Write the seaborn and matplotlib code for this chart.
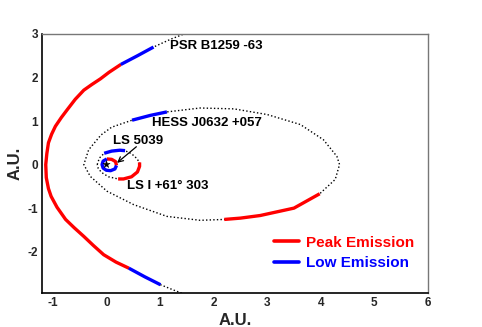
import matplotlib
matplotlib.use("Agg")
import matplotlib.pyplot as plt
from matplotlib.lines import Line2D
from matplotlib.ticker import MultipleLocator
import seaborn as sns
import pandas as pd

# ---- data (A.U.) ----
psr_x = [1.55, 1.20, 0.88, 0.58, 0.27, 0.05, -0.11, -0.27, -0.42, -0.58, -0.73,
         -0.84, -0.95, -1.02, -1.08, -1.11, -1.13, -1.12, -1.08, -1.03, -0.92,
         -0.76, -0.60, -0.42, -0.24, -0.05, 0.18, 0.42, 0.72, 1.01, 1.25, 1.50]
psr_y = [3.05, 2.88, 2.70, 2.50, 2.30, 2.12, 1.97, 1.84, 1.71, 1.50, 1.26,
         1.08, 0.88, 0.70, 0.50, 0.25, 0.0, -0.30, -0.55, -0.73, -0.98,
         -1.26, -1.45, -1.65, -1.86, -2.07, -2.24, -2.38, -2.58, -2.76, -2.88, -3.0]
psr_red = (4, 27)
psr_blue = [(2, 4), (27, 29)]

hess_x = [0.48, 0.82, 1.13, 1.75, 2.38, 3.0, 3.62, 4.05, 4.30, 4.35, 4.27, 3.98,
          3.5, 2.87, 2.5, 2.2, 1.75, 1.13, 0.51, 0.01, -0.30, -0.42, -0.33,
          -0.10, 0.10, 0.48]
hess_y = [1.02, 1.13, 1.21, 1.30, 1.28, 1.15, 0.92, 0.57, 0.19, 0.0, -0.34, -0.67,
          -1.0, -1.17, -1.23, -1.26, -1.28, -1.19, -0.92, -0.61, -0.27, 0.0, 0.34,
          0.68, 0.86, 1.02]
hess_red = (11, 15)
hess_blue = (0, 2)

lsi_x = [-0.17, -0.13, -0.04, 0.10, 0.25, 0.35, 0.47, 0.56, 0.62, 0.62, 0.58,
         0.47, 0.32, 0.22, 0.04, -0.09, -0.15, -0.17]
lsi_y = [0.0, 0.15, 0.26, 0.31, 0.33, 0.32, 0.25, 0.15, 0.05, -0.04, -0.17,
         -0.28, -0.33, -0.33, -0.28, -0.18, -0.09, 0.0]
lsi_red = (8, 13)
lsi_blue = (2, 5)

ls5_x = [0.01, 0.10, 0.17, 0.19, 0.16, 0.08, 0.0, -0.06, -0.08, -0.06, 0.01]
ls5_y = [0.13, 0.12, 0.07, -0.02, -0.10, -0.14, -0.13, -0.08, 0.0, 0.08, 0.13]
ls5_red = (0, 3)
ls5_blue = (3, 10)

star_x = [0.0]
star_y = [0.02]

labels = ["PSR B1259 -63", "HESS J0632 +057", "LS 5039", "LS I +61° 303"]
label_x = [1.19, 0.85, 0.125, 0.39]
label_y = [2.72, 0.96, 0.54, -0.50]
arrow_from = (0.56, 0.41)
arrow_to = (0.20, 0.04)

legend_labels = ["Peak Emission", "Low Emission"]
x_ticks = [-1, 0, 1, 2, 3, 4, 5, 6]
y_ticks = [-2, -1, 0, 1, 2, 3]

RED = "#ff0000"
BLUE = "#0000ff"

sns.set_style("white")
plt.rcParams["font.family"] = ["Liberation Sans", "DejaVu Sans"]
plt.rcParams["font.weight"] = "bold"
plt.rcParams["axes.unicode_minus"] = False

fig = plt.figure(figsize=(4.82, 3.27), dpi=100)
ax = fig.add_axes([42 / 482, 34 / 327, (428 - 42) / 482, (293 - 34) / 327])


def seg(xs, ys, rng):
    a, b = rng
    return pd.DataFrame({"x": xs[a:b + 1], "y": ys[a:b + 1]})


def draw(df, **kw):
    sns.lineplot(data=df, x="x", y="y", sort=False, estimator=None, ax=ax, **kw)


dot = dict(color="black", linewidth=1.0, linestyle=(0, (1, 1.6)))
thick = dict(linewidth=2.4, solid_capstyle="butt", solid_joinstyle="round")

for xs, ys in [(psr_x, psr_y), (hess_x, hess_y), (lsi_x, lsi_y)]:
    draw(pd.DataFrame({"x": xs, "y": ys}), **dot)

draw(seg(psr_x, psr_y, psr_red), color=RED, **thick)
for r in psr_blue:
    draw(seg(psr_x, psr_y, r), color=BLUE, **thick)
draw(seg(hess_x, hess_y, hess_red), color=RED, **thick)
draw(seg(hess_x, hess_y, hess_blue), color=BLUE, **thick)
draw(seg(lsi_x, lsi_y, lsi_red), color=RED, **thick)
draw(seg(lsi_x, lsi_y, lsi_blue), color=BLUE, **thick)
draw(seg(ls5_x, ls5_y, ls5_red), color=RED, **thick)
draw(seg(ls5_x, ls5_y, ls5_blue), color=BLUE, **thick)

sns.scatterplot(x=star_x, y=star_y, marker="*", s=30, color="black",
                edgecolor="black", linewidth=0.3, ax=ax, zorder=5)

for t, lx, ly in zip(labels, label_x, label_y):
    ax.text(lx, ly, t, fontsize=9.5, fontweight="bold", ha="left", va="center",
            color="black")

ax.annotate("", xy=arrow_to, xytext=arrow_from,
            arrowprops=dict(arrowstyle="->", color="black", lw=0.9,
                            mutation_scale=9, shrinkA=0, shrinkB=0))

ax.set_xlim(-1.2, 6)
ax.set_ylim(-2.95, 3)
ax.set_xticks(x_ticks)
ax.set_yticks(y_ticks)
ax.xaxis.set_minor_locator(MultipleLocator(0.2))
ax.yaxis.set_minor_locator(MultipleLocator(0.2))
ax.tick_params(which="both", direction="in", top=False, right=False,
               labelsize=8.5, width=1.0, color="black")
ax.tick_params(which="major", length=6, pad=3)
ax.tick_params(which="minor", length=3)
for lab in ax.get_xticklabels() + ax.get_yticklabels():
    lab.set_fontweight("bold")

ax.set_xlabel("A.U.", fontsize=12, fontweight="bold", labelpad=3)
ax.set_ylabel("A.U.", fontsize=12, fontweight="bold", labelpad=3)

for s in ["left", "bottom"]:
    ax.spines[s].set_color("black")
    ax.spines[s].set_linewidth(1.2)
for s in ["top", "right"]:
    ax.spines[s].set_color("#777777")
    ax.spines[s].set_linewidth(1.0)

handles = [Line2D([], [], color=RED, lw=2.6), Line2D([], [], color=BLUE, lw=2.6)]
leg = ax.legend(handles, legend_labels, loc="upper left",
                bbox_to_anchor=(0.60, 0.222), frameon=False,
                handlelength=1.65, handletextpad=0.45, labelspacing=0.45,
                borderaxespad=0, borderpad=0, labelcolor="linecolor",
                prop={"weight": "bold", "size": 11})

fig.savefig("out.png", dpi=100, facecolor="white")
